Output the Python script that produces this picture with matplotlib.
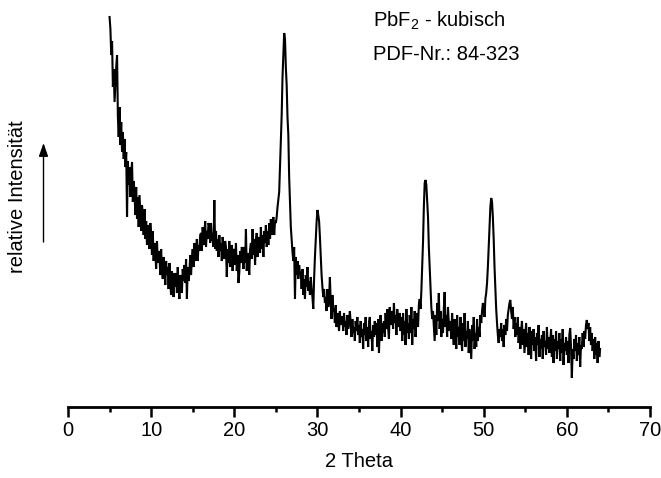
import numpy as np
import matplotlib
matplotlib.use("Agg")
import matplotlib.pyplot as plt

plt.rcParams['font.family'] = ['Liberation Sans', 'DejaVu Sans']

# 2-Theta grid of the scan (degrees)
theta_start = 5.0
theta_step = 0.1

# relative intensity (arbitrary units), 0.1 deg steps
int_05_09 = [
    390, 378, 352, 366, 320, 338, 305, 322, 340, 352,
    290, 270, 300, 262, 285, 255, 275, 248, 268, 240,
    255, 190, 246, 222, 240, 210, 232, 245, 205, 226,
    215, 192, 220, 188, 210, 180, 212, 194, 176, 202,
    192, 172, 198, 168, 186, 162, 182, 176, 158, 184,
]
int_10_14 = [
    172, 152, 176, 146, 164, 156, 138, 166, 144, 156,
    152, 132, 158, 138, 128, 150, 140, 122, 146, 132,
    140, 118, 144, 124, 112, 136, 122, 110, 134, 120,
    134, 114, 140, 120, 108, 132, 122, 114, 138, 126,
    142, 124, 148, 108, 140, 126, 134, 152, 132, 148,
]
int_15_19 = [
    158, 140, 164, 146, 154, 168, 146, 162, 156, 172,
    174, 156, 180, 162, 172, 186, 160, 176, 168, 184,
    180, 164, 184, 166, 174, 160, 207, 158, 176, 156,
    168, 150, 172, 156, 164, 146, 170, 158, 148, 166,
    160, 130, 158, 144, 166, 140, 154, 162, 136, 156,
]
int_20_24 = [
    158, 142, 164, 136, 152, 124, 134, 156, 144, 160,
    156, 138, 160, 144, 178, 136, 154, 148, 132, 158,
    164, 148, 178, 152, 168, 142, 166, 174, 150, 166,
    170, 154, 180, 158, 172, 150, 176, 164, 182, 160,
    176, 162, 184, 168, 188, 172, 180, 190, 172, 186,
]
int_25_29 = [
    184, 190, 200, 208, 215, 240, 262, 292, 330, 352,
    374, 368, 340, 322, 290, 272, 230, 205, 180, 168,
    155, 146, 160, 108, 150, 132, 146, 128, 142, 134,
    134, 118, 138, 112, 128, 108, 132, 120, 140, 116,
    126, 112, 130, 118, 110, 98, 128, 150, 168, 185,
]
int_30_34 = [
    197, 192, 186, 170, 150, 132, 120, 110, 118, 104,
    110, 96, 118, 100, 108, 130, 104, 88, 112, 96,
    98, 84, 102, 80, 94, 86, 76, 96, 82, 90,
    90, 76, 94, 80, 86, 72, 92, 78, 84, 96,
    84, 70, 88, 74, 80, 66, 86, 76, 90, 72,
]
int_35_39 = [
    82, 64, 86, 70, 78, 58, 84, 72, 90, 66,
    80, 60, 84, 90, 68, 76, 56, 82, 70, 86,
    72, 84, 60, 88, 54, 80, 92, 66, 84, 74,
    86, 70, 94, 78, 98, 80, 68, 100, 82, 90,
    96, 78, 104, 84, 92, 72, 98, 80, 88, 94,
]
int_40_44 = [
    76, 90, 66, 94, 72, 86, 62, 98, 74, 84,
    68, 92, 74, 100, 62, 88, 78, 96, 70, 86,
    94, 80, 102, 108, 98, 116, 140, 165, 200, 224,
    227, 222, 206, 190, 160, 140, 118, 100, 88, 96,
    80, 66, 92, 72, 104, 86, 114, 78, 96, 70,
]
int_45_49 = [
    88, 74, 98, 115, 80, 92, 70, 100, 84, 76,
    86, 68, 94, 74, 62, 88, 76, 58, 92, 70,
    80, 62, 90, 70, 56, 84, 66, 94, 60, 76,
    68, 86, 54, 78, 62, 48, 82, 66, 90, 58,
    74, 60, 88, 66, 80, 70, 92, 84, 96, 104,
]
int_50_54 = [
    100, 90, 108, 114, 124, 140, 160, 180, 200, 209,
    205, 190, 168, 140, 118, 98, 84, 72, 64, 78,
    70, 84, 66, 78, 60, 82, 72, 88, 76, 92,
    98, 104, 107, 96, 88, 100, 78, 90, 70, 84,
    72, 90, 64, 80, 58, 76, 86, 62, 78, 54,
]
int_55_59 = [
    70, 84, 60, 74, 52, 80, 66, 48, 76, 62,
    78, 56, 70, 46, 74, 62, 82, 50, 68, 58,
    72, 48, 76, 60, 66, 52, 80, 58, 70, 54,
    64, 78, 50, 72, 44, 68, 56, 76, 48, 66,
    58, 74, 46, 68, 54, 78, 42, 64, 56, 70,
]
int_60_64 = [
    52, 66, 44, 72, 79, 60, 29, 58, 48, 68,
    56, 72, 46, 64, 52, 70, 40, 62, 58, 74,
    60, 76, 68, 82, 87, 78, 84, 66, 80, 62,
    74, 56, 68, 48, 70, 52, 64, 44, 66, 50,
    58,
]

intensity = np.array(int_05_09 + int_10_14 + int_15_19 + int_20_24 + int_25_29 +
                     int_30_34 + int_35_39 + int_40_44 + int_45_49 + int_50_54 +
                     int_55_59 + int_60_64, dtype=float)
theta = theta_start + theta_step * np.arange(len(intensity))

x_ticks = [0, 10, 20, 30, 40, 50, 60, 70]

W, H = 661, 478
fig = plt.figure(figsize=(W / 100, H / 100), dpi=100)
ax = fig.add_axes([68 / W, 71 / H, 582 / W, 407 / H])
ax.plot(theta, intensity, color='black', lw=1.5, solid_joinstyle='miter')

ax.set_xlim(0, 70)
ax.set_ylim(0, 407)
for s in ['left', 'right', 'top']:
    ax.spines[s].set_visible(False)
ax.spines['bottom'].set_linewidth(2.0)
ax.set_yticks([])
ax.set_xticks(x_ticks)
ax.set_xticks(np.arange(5, 70, 10), minor=True)
ax.tick_params(axis='x', which='major', direction='out', length=7, width=1.8,
               labelsize=14.5, pad=3)
ax.tick_params(axis='x', which='minor', direction='out', length=3.5, width=1.8)
ax.set_xlabel('2 Theta', fontsize=14.5, labelpad=9)
ax.patch.set_visible(False)

fig.text(18 / W, 1 - 197 / H, 'relative Intensität', rotation=90,
         ha='center', va='center', fontsize=14.5)
fig.add_artist(matplotlib.patches.FancyArrowPatch(
    (43.5 / W, 1 - 242 / H), (43.5 / W, 1 - 143 / H),
    transform=fig.transFigure, arrowstyle='-|>,head_length=4,head_width=1.4',
    mutation_scale=2, lw=1.0, color='black', shrinkA=0, shrinkB=0))

fig.text(373 / W, 1 - 27 / H, r'PbF$_\mathregular{2}$ - kubisch',
         ha='left', va='baseline', fontsize=14.5)
fig.text(373 / W, 1 - 60 / H, 'PDF-Nr.: 84-323',
         ha='left', va='baseline', fontsize=14.5)

fig.savefig('out.png', dpi=100)
